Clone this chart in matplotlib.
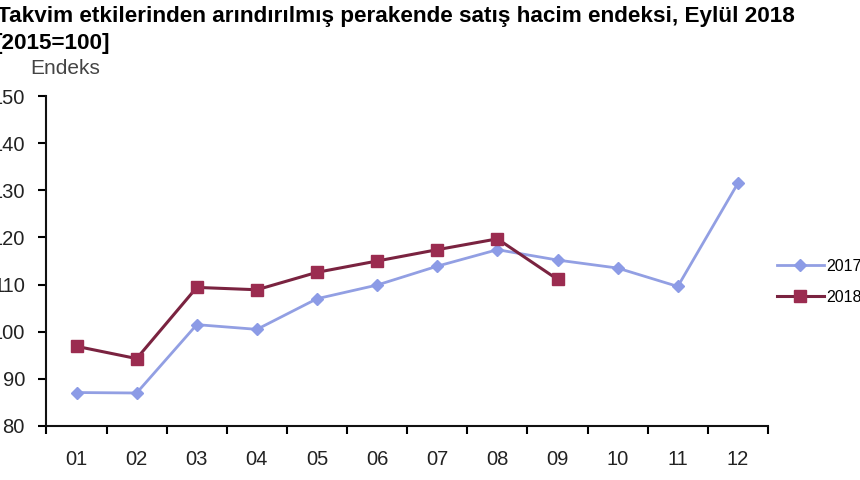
import matplotlib
matplotlib.use('Agg')
import matplotlib.pyplot as plt
import numpy as np

plt.rcParams['font.family'] = ['Liberation Sans', 'DejaVu Sans']

# aylar ve endeks degerleri
aylar = ['01', '02', '03', '04', '05', '06', '07', '08', '09', '10', '11', '12']
endeks_2017 = [87.1, 87.0, 101.5, 100.5, 107.0, 109.9, 113.9, 117.4, 115.2, 113.5, 109.6, 131.5]
endeks_2018 = [96.9, 94.3, 109.4, 108.9, 112.6, 115.0, 117.4, 119.7, 111.1]
y_ticks = [80, 90, 100, 110, 120, 130, 140, 150]

renk_2017 = '#929fe3'
renk_2018 = '#9b2c50'

fig = plt.figure(figsize=(8.6, 4.8), dpi=100)
ax = fig.add_axes([0.054, 0.1125, 0.839, 0.6875])

x = np.arange(1, len(aylar) + 1)
ax.plot(x, endeks_2017, color=renk_2017, lw=2, marker='D', ms=6,
        mfc='#8c9be6', mec='#8c9be6', label='2017')
ax.plot(x[:len(endeks_2018)], endeks_2018, color='#7a2340', lw=2.2, marker='s', ms=8,
        mfc=renk_2018, mec=renk_2018, label='2018')

ax.set_xlim(0.5, 12.5)
ax.set_ylim(80, 150)
ax.set_yticks(y_ticks)
ax.set_yticklabels([str(v) for v in y_ticks])

# kategori sinirlarinda tikler, etiketler ortada
ax.set_xticks(np.arange(0.5, 13, 1))
ax.set_xticklabels([])
ax.set_xticks(x, minor=True)
ax.set_xticklabels(aylar, minor=True)
ax.tick_params(axis='x', which='major', length=6, width=1.5, direction='out')
ax.tick_params(axis='x', which='minor', length=0, pad=17, labelsize=14.5, labelcolor='#222222')
ax.tick_params(axis='y', length=6, width=1.5, direction='out', pad=9.5, labelsize=14.5,
               labelcolor='#222222')

for s in ['top', 'right']:
    ax.spines[s].set_visible(False)
for s in ['left', 'bottom']:
    ax.spines[s].set_linewidth(1.5)
    ax.spines[s].set_color('#111111')

fig.text(-0.004, 0.966, 'Takvim etkilerinden arındırılmış perakende satış hacim endeksi, Eylül 2018',
         fontsize=16.2, fontweight='bold', va='center', ha='left')
fig.text(-0.006, 0.91, '[2015=100]', fontsize=16.2, fontweight='bold', va='center', ha='left')
fig.text(0.035, 0.858, 'Endeks', fontsize=15, color='#444444', va='center', ha='left')

fig.legend(loc='center left', bbox_to_anchor=(0.887, 0.413), frameon=False,
           fontsize=11.5, handlelength=2.9, labelspacing=1.0, handletextpad=0.15)

fig.savefig('out.png', dpi=100)
